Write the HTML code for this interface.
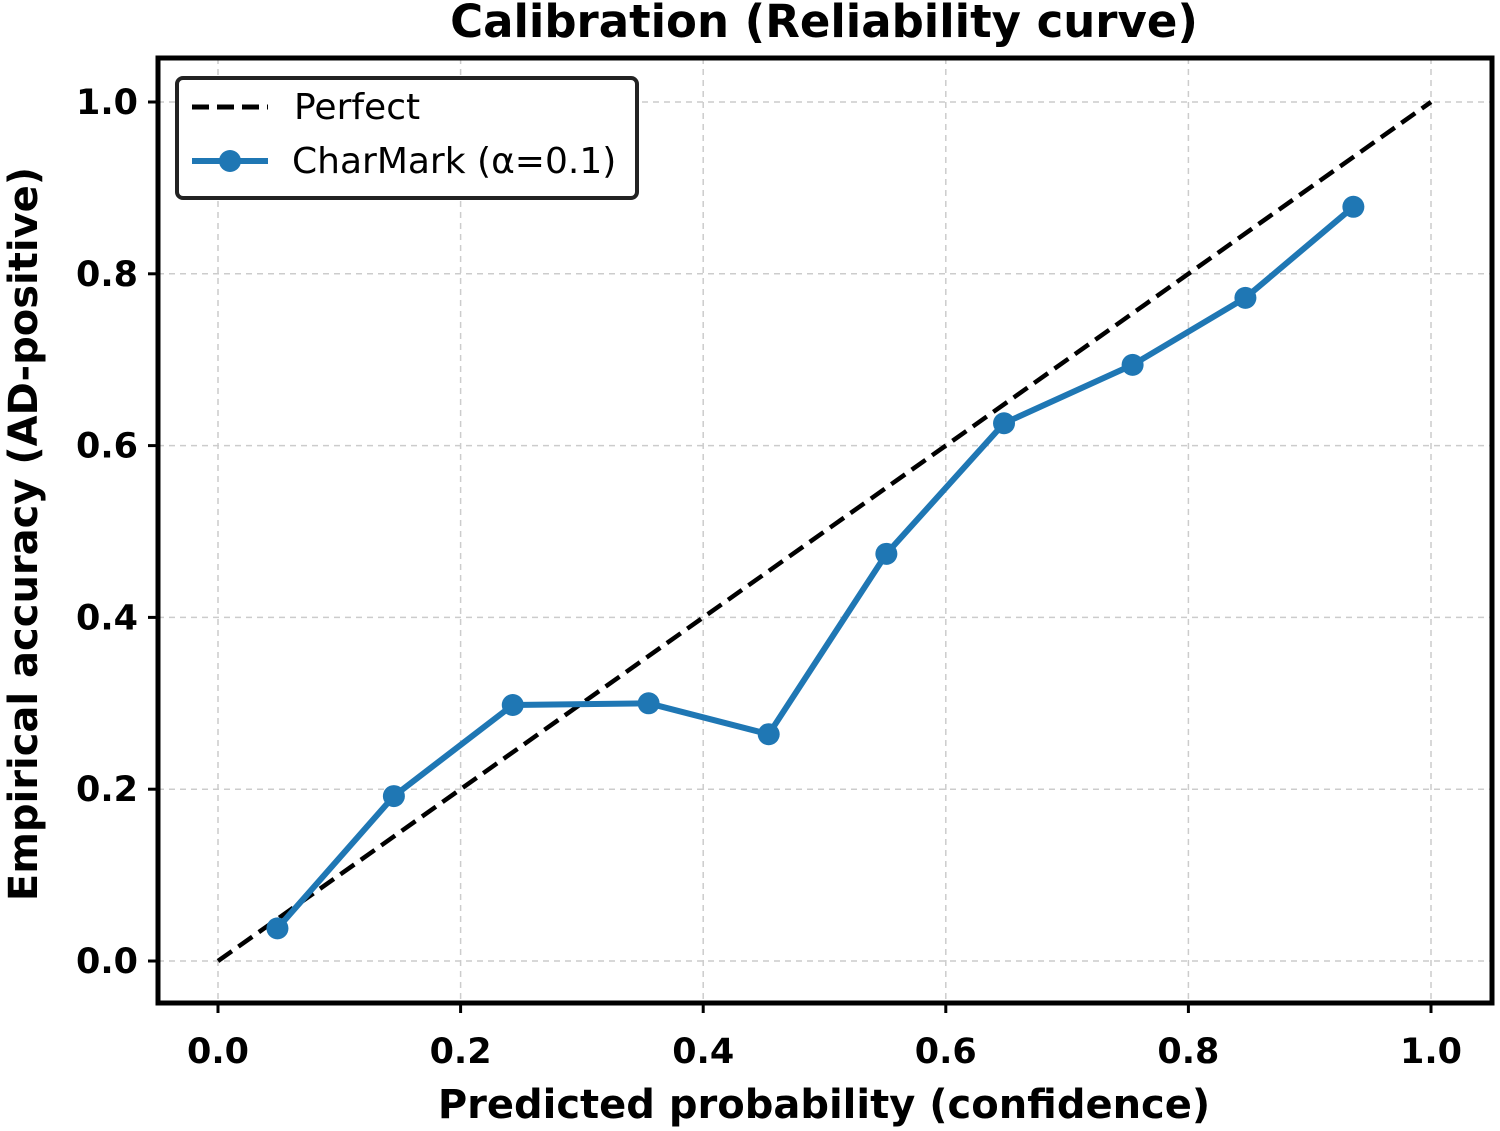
<!DOCTYPE html>
<html><head><meta charset="utf-8"><style>
html,body{margin:0;padding:0;background:#fff;}
svg{display:block;font-family:"DejaVu Sans","Liberation Sans",sans-serif;}
</style></head><body>
<svg id="chart" width="1500" height="1131" viewBox="0 0 1500 1131">
<text x="824" y="37" text-anchor="middle" font-size="45" font-weight="bold">Calibration (Reliability curve)</text>
<g id="grid"></g>
<g id="xticks"></g>
<g id="yticks"></g>
<g id="series"></g>
<rect x="158" y="58" width="1334" height="945" fill="none" stroke="#000" stroke-width="5"/>
<text x="824" y="1118" text-anchor="middle" font-size="40" font-weight="bold">Predicted probability (confidence)</text>
<text transform="translate(37,534) rotate(-90)" text-anchor="middle" font-size="40" font-weight="bold">Empirical accuracy (AD-positive)</text>
<g>
<rect x="177" y="78" width="460" height="120" rx="6" fill="#fff" stroke="#222" stroke-width="4"/>
<line x1="192" y1="107" x2="268" y2="107" stroke="#000" stroke-width="5" stroke-dasharray="17,8"/>
<text x="294" y="119" font-size="36">Perfect</text>
<line x1="192" y1="161" x2="268" y2="161" stroke="#1f77b4" stroke-width="6"/>
<circle cx="230" cy="161" r="11" fill="#1f77b4"/>
<text x="292" y="173" font-size="36">CharMark (α=0.1)</text>
</g>
</svg>
<script>
const xTickLabels = ["0.0","0.2","0.4","0.6","0.8","1.0"];
const yTickLabels = ["0.0","0.2","0.4","0.6","0.8","1.0"];
const confidence = [0.049,0.145,0.243,0.355,0.454,0.551,0.648,0.754,0.847,0.936];
const accuracy = [0.038,0.192,0.298,0.300,0.264,0.474,0.626,0.694,0.772,0.878];
const perfectX = [0,1];
const perfectY = [0,1];
const NS="http://www.w3.org/2000/svg";
const X=v=>218+v*1213, Y=v=>961-v*859;
function mk(t,a,p){const e=document.createElementNS(NS,t);for(const k in a)e.setAttribute(k,a[k]);p.appendChild(e);return e;}
const grid=document.getElementById('grid'),xt=document.getElementById('xticks'),yt=document.getElementById('yticks'),ser=document.getElementById('series');
xTickLabels.forEach(l=>{const v=parseFloat(l);
 const g=mk('line',{x1:X(v),x2:X(v),y1:58,y2:1003,stroke:'#ccc','stroke-width':1.5,'stroke-dasharray':'6,5'},grid);
 
 
 const t=mk('line',{x1:X(v),x2:X(v),y1:1003,y2:1013,stroke:'#000','stroke-width':3},xt);
 
 
 const tx=mk('text',{x:X(v),y:1063,'text-anchor':'middle','font-size':35,'font-weight':'bold'},xt);tx.textContent=l;
 
 
});
yTickLabels.forEach(l=>{const v=parseFloat(l);
 const g=mk('line',{x1:158,x2:1492,y1:Y(v),y2:Y(v),stroke:'#ccc','stroke-width':1.5,'stroke-dasharray':'6,5'},grid);
 
 
 const t=mk('line',{x1:148,x2:158,y1:Y(v),y2:Y(v),stroke:'#000','stroke-width':3},yt);
 
 
 const tx=mk('text',{x:138,y:Y(v)+12,'text-anchor':'end','font-size':35,'font-weight':'bold'},yt);tx.textContent=l;
 
 
});
const pl=mk('polyline',{points:perfectX.map((x,i)=>X(x)+','+Y(perfectY[i])).join(' '),fill:'none',stroke:'#000','stroke-width':4.5,'stroke-dasharray':'17,8'},ser);


const cl=mk('polyline',{points:confidence.map((x,i)=>X(x)+','+Y(accuracy[i])).join(' '),fill:'none',stroke:'#1f77b4','stroke-width':6,'stroke-linejoin':'round'},ser);


confidence.forEach((x,i)=>{const c=mk('circle',{cx:X(x),cy:Y(accuracy[i]),r:11,fill:'#1f77b4'},ser);
 
 
});
</script>
</body></html>
